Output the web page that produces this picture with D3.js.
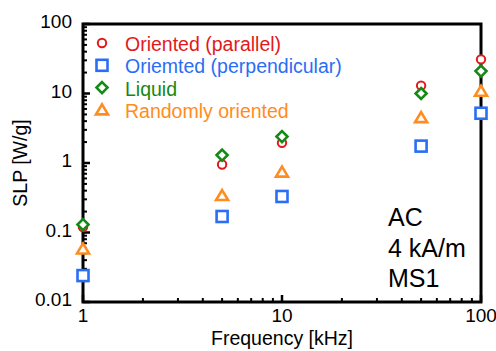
<!DOCTYPE html>
<html>
<head>
<meta charset="utf-8">
<script src="https://cdn.jsdelivr.net/npm/d3@7"></script>
<style>
  body { margin: 0; background: #fff; }
  text { font-family: "Liberation Sans", Arial, sans-serif; }
</style>
</head>
<body>
<div id="chart"></div>
<script>
// frequencies in kHz
const freqs = [1, 5, 10, 50, 100];
const parallel = [0.12, 0.95, 1.95, 13, 31];
const perpendicular = [0.024, 0.17, 0.33, 1.75, 5.2];
const liquid = [0.13, 1.3, 2.4, 10, 21];
const randomly = [0.058, 0.34, 0.74, 4.5, 10.8];

const seriesNames = ["Oriented (parallel)", "Oriemted (perpendicular)", "Liquid", "Randomly oriented"];
const yTicks = [0.01, 0.1, 1, 10, 100];
const xTicks = [1, 10, 100];
const notes = ["AC", "4 kA/m", "MS1"];

const width = 496, height = 351;
const plotL = 83, plotR = 481, plotT = 24, plotB = 302;

const series = [
  { name: seriesNames[0], values: parallel, color: "#e2191c", shape: "circle" },
  { name: seriesNames[1], values: perpendicular, color: "#2a6ef5", shape: "square" },
  { name: seriesNames[2], values: liquid, color: "#138a13", shape: "diamond" },
  { name: seriesNames[3], values: randomly, color: "#ff8c1e", shape: "triangle" }
];

const xScale = d3.scaleLog().domain([1, 100]).range([plotL, plotR]);
const yScale = d3.scaleLog().domain([0.01, 100]).range([plotB, plotT]);

const svg = d3.select("#chart").append("svg")
  .attr("width", width)
  .attr("height", height);

// minor ticks
function minorTicks(lo, hi) {
  const out = [];
  for (let d = lo; d < hi; d *= 10) {
    for (let k = 2; k <= 9; k++) out.push(d * k);
  }
  return out;
}

const tickG = svg.append("g").attr("stroke", "#000");
tickG.selectAll(".ymaj").data(yTicks).enter().append("line")
  .attr("x1", plotL).attr("x2", plotL + 7)
  .attr("y1", d => yScale(d)).attr("y2", d => yScale(d))
  .attr("stroke-width", 2.5);
tickG.selectAll(".ymin").data(minorTicks(0.01, 100)).enter().append("line")
  .attr("x1", plotL).attr("x2", plotL + 4)
  .attr("y1", d => yScale(d)).attr("y2", d => yScale(d))
  .attr("stroke-width", 2);
tickG.selectAll(".xmaj").data(xTicks).enter().append("line")
  .attr("y1", plotB).attr("y2", plotB - 7)
  .attr("x1", d => xScale(d)).attr("x2", d => xScale(d))
  .attr("stroke-width", 2.5);
tickG.selectAll(".xmin").data(minorTicks(1, 100)).enter().append("line")
  .attr("y1", plotB).attr("y2", plotB - 4)
  .attr("x1", d => xScale(d)).attr("x2", d => xScale(d))
  .attr("stroke-width", 2);

// frame
svg.append("rect")
  .attr("x", plotL).attr("y", plotT)
  .attr("width", plotR - plotL).attr("height", plotB - plotT)
  .attr("fill", "none").attr("stroke", "#000").attr("stroke-width", 3);

// tick labels
svg.selectAll(".ylab").data(yTicks).enter().append("text")
  .attr("x", plotL - 11).attr("y", d => yScale(d) + 4)
  .attr("text-anchor", "end").attr("font-size", 19)
  .text(d => d);
svg.selectAll(".xlab").data(xTicks).enter().append("text")
  .attr("x", d => xScale(d)).attr("y", plotB + 20)
  .attr("text-anchor", "middle").attr("font-size", 19)
  .text(d => d);

// axis titles
svg.append("text")
  .attr("x", xScale(10)).attr("y", 345)
  .attr("text-anchor", "middle").attr("font-size", 19.5)
  .text("Frequency [kHz]");
svg.append("text")
  .attr("transform", `translate(27, ${yScale(1)}) rotate(-90)`)
  .attr("text-anchor", "middle").attr("font-size", 19.5)
  .text("SLP [W/g]");

function marker(g, shape, color) {
  if (shape === "circle") {
    g.append("circle").attr("r", 4.2)
      .attr("fill", "#fff").attr("stroke", color).attr("stroke-width", 2);
  } else if (shape === "square") {
    g.append("rect").attr("x", -5.5).attr("y", -5.5).attr("width", 11).attr("height", 11)
      .attr("fill", "#fff").attr("stroke", color).attr("stroke-width", 2.6);
  } else if (shape === "diamond") {
    g.append("path").attr("d", "M0,-5.5L5.5,0L0,5.5L-5.5,0Z")
      .attr("fill", "#fff").attr("stroke", color).attr("stroke-width", 2.6);
  } else {
    g.append("path").attr("d", "M0,-5.5L6,4.5L-6,4.5Z")
      .attr("fill", "#fff").attr("stroke", color).attr("stroke-width", 2.6)
      .attr("stroke-linejoin", "miter");
  }
}

// points: draw in order so liquid sits over parallel
const drawOrder = [series[0], series[3], series[1], series[2]];
drawOrder.forEach(s => {
  s.values.forEach((v, i) => {
    const g = svg.append("g")
      .attr("transform", `translate(${xScale(freqs[i])},${yScale(v)})`);
    marker(g, s.shape, s.color);
  });
});

// legend
series.forEach((s, i) => {
  const y = 43 + i * 22.3;
  const g = svg.append("g").attr("transform", `translate(102,${y})`);
  marker(g, s.shape, s.color);
  svg.append("text")
    .attr("x", 125).attr("y", y + 8)
    .attr("font-size", 19.5).attr("fill", s.color)
    .text(s.name);
});

// annotation
notes.forEach((t, i) => {
  svg.append("text")
    .attr("x", 388).attr("y", 226 + i * 30.5)
    .attr("font-size", 25)
    .text(t);
});
</script>
</body>
</html>
